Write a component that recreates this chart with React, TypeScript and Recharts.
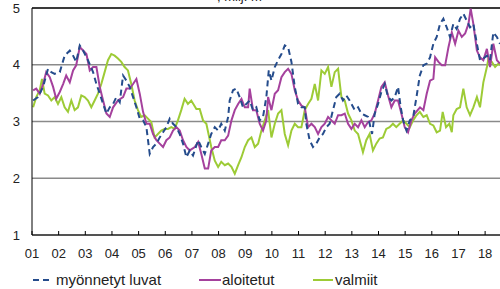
import { CartesianGrid, Line, LineChart, ReferenceLine, XAxis, YAxis } from "recharts";

// [kuukausi alkaen 1/2001, milj. m3]
const myonnetytLuvat: [number, number][] = [
  [0.5, 3.37], [2.7, 3.43], [5.0, 3.61], [7.2, 3.93], [8.7, 3.87], [10.2, 3.84], [12.5, 3.87], [14.7, 4.16],
  [17.0, 4.25], [18.5, 4.16], [19.9, 4.05], [21.5, 4.34], [23.0, 4.25], [25.2, 4.08], [27.5, 3.87], [29.0, 3.66],
  [30.5, 3.49], [32.0, 3.31], [33.5, 3.14], [35.0, 3.25], [36.5, 3.31], [38.0, 3.43], [39.5, 3.34], [41.0, 3.81],
  [42.5, 3.72], [44.0, 3.61], [45.5, 3.43], [47.0, 3.25], [48.5, 3.05], [50.0, 3.02], [51.5, 2.9], [53.0, 2.43],
  [54.5, 2.55], [56.0, 2.61], [57.5, 2.72], [59.0, 2.81], [60.5, 2.9], [62.0, 3.05], [63.5, 2.96], [65.0, 2.9],
  [66.5, 2.78], [68.0, 2.61], [69.5, 2.37], [71.0, 2.49], [72.5, 2.4], [74.8, 2.67], [76.2, 2.55], [77.8, 2.43],
  [79.3, 2.61], [80.7, 2.78], [82.3, 2.9], [83.8, 2.84], [85.2, 2.96], [86.8, 2.84], [88.3, 3.08], [89.0, 3.37],
  [90.5, 3.55], [92.0, 3.58], [93.5, 3.43], [95.0, 3.25], [96.5, 3.31], [98.0, 3.37], [99.5, 3.2], [101.0, 3.25],
  [102.5, 3.02], [104.0, 3.08], [105.5, 3.43], [106.6, 3.9], [107.8, 3.72], [109.3, 3.96], [110.8, 4.08], [112.3, 4.19],
  [113.8, 4.34], [115.3, 4.31], [116.8, 4.05], [118.3, 3.61], [119.8, 3.31], [121.3, 3.25], [122.8, 3.25], [123.5, 2.96],
  [125.0, 2.67], [126.5, 2.55], [128.0, 2.61], [129.5, 2.72], [131.0, 2.78], [132.5, 2.9], [134.0, 2.96], [135.5, 3.2],
  [137.0, 3.43], [138.5, 3.49], [140.0, 3.37], [141.5, 3.46], [143.0, 3.37], [145.3, 3.2], [146.8, 3.25], [148.3, 3.14],
  [149.8, 3.11], [151.3, 3.08], [153.1, 2.78], [154.3, 3.14], [155.8, 3.31], [157.3, 3.52], [158.8, 3.66], [160.3, 3.43],
  [161.8, 3.37], [163.3, 3.43], [164.8, 3.61], [166.0, 3.25], [167.1, 3.02], [168.6, 2.84], [170.1, 3.02], [171.6, 3.08],
  [173.1, 3.43], [174.6, 3.81], [176.2, 3.99], [177.7, 4.02], [179.2, 4.13], [180.7, 4.37], [182.2, 4.49], [183.7, 4.72],
  [185.2, 4.81], [186.7, 4.66], [188.2, 4.49], [189.7, 4.72], [191.2, 4.63], [192.7, 4.81], [194.2, 4.9], [195.7, 4.78],
  [197.2, 4.66], [198.7, 4.72], [200.3, 4.37], [201.7, 4.08], [203.2, 4.11], [204.8, 4.16], [206.2, 4.08], [207.7, 4.57],
  [209.3, 4.49], [210.7, 4.37],
];

const aloitetut: [number, number][] = [
  [0.5, 3.55], [1.9, 3.58], [3.5, 3.49], [5.0, 3.66], [6.4, 3.87], [8.0, 3.78], [9.5, 3.61], [10.9, 3.4],
  [12.5, 3.52], [14.0, 3.66], [15.4, 3.81], [17.0, 3.69], [18.5, 3.9], [19.9, 3.99], [21.5, 4.31], [23.0, 4.25],
  [24.5, 4.19], [26.0, 3.9], [27.5, 3.96], [29.0, 3.96], [30.5, 3.61], [32.0, 3.37], [33.5, 3.14], [35.0, 3.08],
  [36.5, 3.25], [38.7, 3.37], [41.0, 3.43], [42.5, 3.58], [44.0, 3.58], [45.5, 3.66], [47.0, 3.75], [48.5, 3.49],
  [50.0, 3.17], [51.5, 2.96], [53.0, 2.96], [54.5, 2.78], [56.0, 2.67], [57.5, 2.61], [59.0, 2.55], [60.5, 2.67],
  [62.0, 2.72], [63.5, 2.84], [65.0, 2.9], [66.5, 2.84], [68.0, 2.67], [69.5, 2.55], [71.0, 2.49], [73.3, 2.55],
  [74.8, 2.64], [76.2, 2.43], [77.8, 2.17], [79.3, 2.17], [80.7, 2.49], [82.3, 2.55], [83.8, 2.55], [85.2, 2.67],
  [86.8, 2.67], [88.3, 2.75], [89.8, 3.02], [91.3, 3.2], [92.8, 3.31], [94.3, 3.4], [95.8, 3.25], [97.3, 3.25],
  [98.0, 3.58], [99.5, 3.2], [101.0, 3.2], [102.5, 2.96], [104.0, 2.84], [105.5, 3.02], [106.3, 3.43], [107.8, 3.2],
  [109.3, 3.49], [110.8, 3.55], [112.3, 3.78], [113.8, 3.87], [115.3, 3.93], [116.8, 3.84], [118.3, 3.55], [119.8, 3.37],
  [121.3, 3.28], [122.8, 3.25], [124.3, 2.9], [125.8, 2.96], [127.3, 2.9], [128.8, 2.78], [130.3, 2.9], [131.8, 2.96],
  [133.3, 3.08], [134.8, 3.02], [136.3, 2.96], [137.8, 3.11], [139.3, 3.11], [140.8, 3.14], [142.3, 2.96], [143.8, 2.87],
  [145.3, 2.96], [146.8, 2.9], [148.3, 3.02], [149.8, 2.9], [151.3, 2.99], [152.8, 3.02], [154.3, 3.14], [155.8, 3.37],
  [157.3, 3.61], [158.8, 3.69], [160.3, 3.46], [161.8, 3.25], [163.3, 3.37], [164.8, 3.37], [166.3, 3.14], [167.8, 2.9],
  [169.3, 2.81], [170.8, 3.02], [172.3, 3.14], [174.7, 3.25], [176.2, 3.2], [177.7, 3.49], [179.2, 3.72], [180.7, 3.75],
  [181.5, 4.13], [183.0, 4.05], [184.5, 3.99], [186.0, 3.99], [187.5, 4.31], [189.0, 4.57], [190.5, 4.37], [192.0, 4.6],
  [193.5, 4.49], [195.0, 4.55], [196.5, 4.72], [197.5, 4.99], [198.7, 4.72], [200.3, 4.25], [201.7, 4.13], [203.2, 4.08],
  [204.8, 4.28], [206.2, 3.96], [207.7, 4.37], [209.3, 4.08], [210.7, 4.02],
];

const valmiit: [number, number][] = [
  [0.5, 3.25], [1.9, 3.43], [3.5, 3.55], [4.5, 3.75], [5.7, 3.49], [7.2, 3.46], [8.7, 3.37], [10.2, 3.43],
  [11.7, 3.31], [13.2, 3.43], [14.7, 3.25], [16.2, 3.17], [17.7, 3.37], [19.2, 3.2], [20.7, 3.25], [22.2, 3.46],
  [23.7, 3.43], [25.2, 3.37], [26.7, 3.25], [28.2, 3.37], [29.7, 3.49], [31.2, 3.66], [32.7, 3.87], [34.2, 4.08],
  [35.7, 4.19], [37.2, 4.16], [38.7, 4.11], [40.2, 4.05], [41.7, 3.96], [43.2, 3.9], [44.7, 3.66], [46.2, 3.37],
  [47.7, 3.2], [49.2, 3.08], [50.7, 3.11], [52.2, 3.05], [53.7, 2.99], [55.2, 2.72], [56.7, 2.78], [58.2, 2.84],
  [59.7, 2.87], [61.2, 2.87], [62.7, 2.9], [64.2, 2.87], [65.7, 3.02], [67.2, 3.2], [68.7, 3.4], [70.2, 3.31],
  [71.7, 3.37], [74.0, 3.22], [75.5, 3.22], [77.0, 3.02], [78.5, 2.96], [80.7, 2.55], [82.3, 2.31], [83.8, 2.2],
  [85.2, 2.29], [86.8, 2.23], [88.3, 2.26], [89.8, 2.2], [91.3, 2.08], [92.8, 2.23], [94.3, 2.37], [95.8, 2.55],
  [97.3, 2.67], [98.8, 2.72], [100.3, 2.55], [101.8, 2.61], [103.3, 2.84], [104.8, 3.02], [106.3, 3.2], [107.8, 2.72],
  [109.3, 2.96], [110.8, 3.14], [112.3, 3.2], [113.8, 2.78], [115.3, 2.58], [116.8, 2.84], [118.3, 2.96], [119.8, 2.9],
  [121.3, 2.9], [122.8, 3.2], [124.3, 3.31], [125.8, 3.4], [127.3, 3.66], [128.8, 3.37], [130.3, 3.9], [131.8, 3.84],
  [133.3, 3.96], [134.8, 3.61], [136.3, 3.87], [137.8, 3.93], [139.3, 3.43], [140.8, 3.37], [142.3, 3.14], [143.8, 3.02],
  [145.3, 2.84], [146.8, 2.78], [149.0, 2.46], [150.5, 2.67], [152.0, 2.78], [153.5, 2.49], [155.0, 2.61], [156.5, 2.7],
  [158.0, 2.72], [159.5, 2.87], [161.0, 2.9], [162.5, 2.96], [164.0, 2.9], [165.5, 2.96], [167.1, 3.02], [168.6, 2.96],
  [170.1, 2.9], [171.6, 3.02], [173.1, 3.11], [174.6, 3.17], [176.2, 3.08], [177.7, 3.11], [179.2, 2.96], [180.7, 2.93],
  [182.2, 2.81], [183.7, 2.84], [184.9, 3.17], [186.4, 2.9], [187.9, 2.96], [189.0, 2.81], [189.7, 3.11], [191.2, 3.22],
  [192.7, 3.25], [194.2, 3.58], [195.7, 3.25], [197.2, 3.11], [198.7, 3.25], [200.3, 3.43], [201.7, 3.25], [203.2, 3.69],
  [204.8, 3.96], [205.5, 4.11], [207.0, 4.05], [208.5, 3.96], [210.0, 4.02], [210.7, 3.99],
];

const yearTicks = [0, 12, 24, 36, 48, 60, 72, 84, 96, 108, 120, 132, 144, 156, 168, 180, 192, 204];
const valueTicks = [1, 2, 3, 4, 5];

const font = "'Liberation Sans', Arial, sans-serif";
const BLUE = "#254C8C";
const PURPLE = "#A5419D";
const GREEN = "#9DCB36";

const toPoints = (rows: [number, number][]) => rows.map(([m, v]) => ({ m, v }));

const App = () => {
  return (
    <div style={{ position: "absolute", left: 0, top: 0, width: 500, height: 289, background: "#fff" }}>
      <LineChart width={500} height={289} margin={{ top: 8, right: 0, left: 0, bottom: 0 }}>
        <CartesianGrid horizontal vertical={false} stroke="#8a8a8a" strokeWidth={1.5} />
        <XAxis
          dataKey="m"
          type="number"
          domain={[0, 210.7]}
          ticks={yearTicks}
          tickFormatter={(m: number) => String(m / 12 + 1).padStart(2, "0")}
          height={54}
          tickSize={-4}
          tickMargin={18}
          stroke="#000"
          tick={{ fill: "#222", fontSize: 13, fontFamily: font }}
          interval={0}
        />
        <YAxis
          type="number"
          domain={[1, 5]}
          ticks={valueTicks}
          width={32}
          tickLine={false}
          tickSize={0}
          tickMargin={12}
          stroke="#000"
          tick={{ fill: "#222", fontSize: 13, fontFamily: font }}
        />
        <ReferenceLine y={5} stroke="#3a3a3a" strokeWidth={2} />
        <Line
          data={toPoints(valmiit)}
          dataKey="v"
          stroke={GREEN}
          strokeWidth={2}
          dot={false}
          isAnimationActive={false}
        />
        <Line
          data={toPoints(aloitetut)}
          dataKey="v"
          stroke={PURPLE}
          strokeWidth={2}
          dot={false}
          isAnimationActive={false}
        />
        <Line
          data={toPoints(myonnetytLuvat)}
          dataKey="v"
          stroke={BLUE}
          strokeWidth={2}
          strokeDasharray="6 4"
          dot={false}
          isAnimationActive={false}
        />
      </LineChart>
      <svg
        width={500}
        height={289}
        style={{ position: "absolute", left: 0, top: 0, pointerEvents: "none" }}
        fontFamily={font}
      >
        <text x={217} y={0.5} fontSize={13} fill="#222">
          , milj. m³
        </text>
        <line x1={33} x2={53} y1={280} y2={280} stroke={BLUE} strokeWidth={2} strokeDasharray="6 4" />
        <text x={56} y={285} fontSize={15} fill="#222">myönnetyt luvat</text>
        <line x1={199} x2={221} y1={280} y2={280} stroke={PURPLE} strokeWidth={2} />
        <text x={222} y={285} fontSize={15} fill="#222">aloitetut</text>
        <line x1={313} x2={333} y1={280} y2={280} stroke={GREEN} strokeWidth={2} />
        <text x={335} y={285} fontSize={15} fill="#222">valmiit</text>
      </svg>
    </div>
  );
};

export default App;
